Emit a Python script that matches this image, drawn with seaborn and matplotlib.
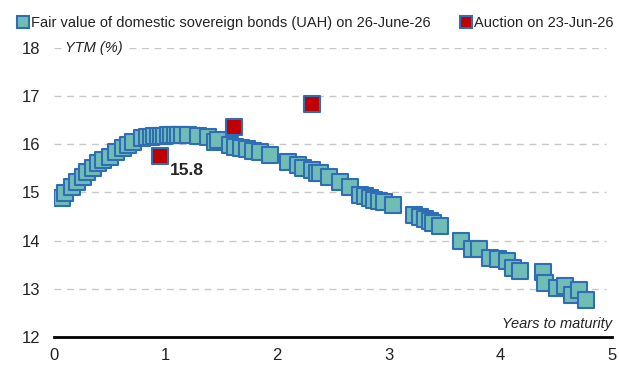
import matplotlib
matplotlib.use('Agg')
import matplotlib.pyplot as plt
import seaborn as sns
import pandas as pd
from matplotlib.lines import Line2D

# fair value curve (years to maturity, YTM %)
fair_x = [0.07, 0.10, 0.16, 0.21, 0.26, 0.30, 0.35, 0.39, 0.44, 0.50, 0.56, 0.62,
          0.66, 0.71, 0.79, 0.83, 0.87, 0.90, 0.93, 0.96, 0.99, 1.02, 1.05, 1.08,
          1.11, 1.15, 1.20, 1.29, 1.38, 1.44, 1.47, 1.58, 1.62, 1.68, 1.73, 1.78,
          1.85, 1.94, 2.10, 2.19, 2.23, 2.31, 2.36, 2.38, 2.46, 2.56, 2.65, 2.74,
          2.79, 2.83, 2.87, 2.91, 2.96, 3.04, 3.23, 3.28, 3.32, 3.37, 3.40, 3.46,
          3.65, 3.75, 3.81, 3.91, 3.98, 4.06, 4.11, 4.18, 4.38, 4.40, 4.51, 4.58,
          4.64, 4.70, 4.77]
fair_y = [14.89, 14.99, 15.12, 15.22, 15.32, 15.43, 15.51, 15.61, 15.68, 15.74, 15.84, 15.93,
          15.99, 16.05, 16.13, 16.15, 16.16, 16.17, 16.17, 16.18, 16.18, 16.19, 16.19, 16.19,
          16.19, 16.19, 16.19, 16.17, 16.15, 16.05, 16.09, 15.99, 15.95, 15.93, 15.90, 15.87,
          15.84, 15.78, 15.63, 15.57, 15.50, 15.47, 15.41, 15.40, 15.32, 15.22, 15.12, 14.95,
          14.92, 14.88, 14.85, 14.83, 14.80, 14.74, 14.54, 14.50, 14.44, 14.40, 14.37, 14.30,
          14.00, 13.83, 13.83, 13.64, 13.62, 13.58, 13.43, 13.36, 13.35, 13.12, 13.02, 13.06,
          12.88, 12.98, 12.77]

# auction results
auc_x = [0.95, 1.61, 2.31]
auc_y = [15.76, 16.36, 16.84]

fair = pd.DataFrame({'m': fair_x, 'ytm': fair_y})
auc = pd.DataFrame({'m': auc_x, 'ytm': auc_y})

sns.set_style('white')
plt.rcParams['font.family'] = ['Liberation Sans', 'DejaVu Sans']

teal = '#70bdb5'
red = '#c00000'
edge = '#2f6db5'
txt = '#222222'

fig = plt.figure(figsize=(6.19, 3.66), dpi=100)
ax = fig.add_axes([0.0872, 0.0792, 0.9015, 0.7897])

sns.scatterplot(data=fair, x='m', y='ytm', marker='s', s=125, color=teal,
                edgecolor=edge, linewidth=1.5, ax=ax, zorder=3, legend=False)
sns.scatterplot(data=auc, x='m', y='ytm', marker='s', s=125, color=red,
                edgecolor=edge, linewidth=1.5, ax=ax, zorder=4, legend=False)

ax.text(auc_x[0] + 0.09, auc_y[0] - 0.3, '15.8', fontsize=12.5, fontweight='bold',
        ha='left', va='center', zorder=5)

ax.set_xlim(0, 5)
ax.set_ylim(12, 18)
ax.set_xticks(range(0, 6))
ax.set_yticks(range(12, 19))
for yv in range(13, 19):
    ax.axhline(yv, xmax=0.99, color='#c8c8c8', lw=1, ls=(0, (5, 4)), zorder=1)

for s in ['top', 'right', 'left']:
    ax.spines[s].set_visible(False)
ax.spines['bottom'].set_color('black')
ax.spines['bottom'].set_linewidth(2)
ax.tick_params(axis='x', direction='out', length=5, width=1.5, color='black',
               labelsize=12, labelcolor=txt, pad=3)
ax.tick_params(axis='y', length=0, labelsize=12, labelcolor=txt, pad=10)
ax.set_xlabel('')
ax.set_ylabel('')

ax.text(0.1, 18, 'YTM (%)', fontsize=10.5, style='italic', ha='left', va='center',
        color=txt, zorder=2,
        bbox=dict(facecolor='white', edgecolor='none', pad=2))
ax.text(5.0, 12.28, 'Years to maturity', fontsize=10.5, style='italic', ha='right',
        va='center', color=txt)

handles = [
    Line2D([], [], marker='s', ls='', markersize=9, markerfacecolor=teal,
           markeredgecolor=edge, markeredgewidth=1.5,
           label='Fair value of domestic sovereign bonds (UAH) on 26-June-26'),
    Line2D([], [], marker='s', ls='', markersize=9, markerfacecolor=red,
           markeredgecolor=edge, markeredgewidth=1.5,
           label='Auction on 23-Jun-26'),
]
fig.legend(handles=handles, loc='center left', bbox_to_anchor=(0.028, 0.937),
           ncol=2, frameon=False, fontsize=10.5, handlelength=0.8, labelcolor=txt,
           handletextpad=0.15, columnspacing=2.0, borderaxespad=0, borderpad=0)

fig.savefig('out.png', dpi=100)
